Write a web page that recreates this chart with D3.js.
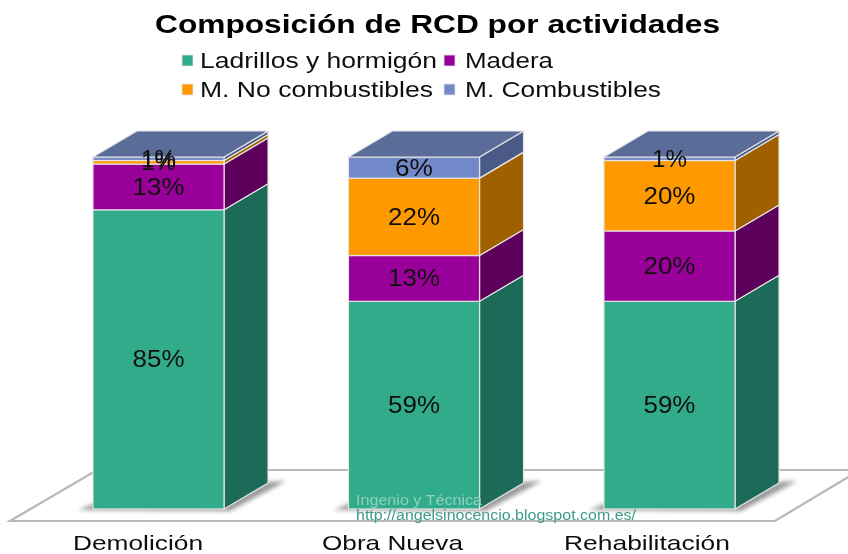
<!DOCTYPE html>
<html><head><meta charset="utf-8">
<script src="https://cdn.jsdelivr.net/npm/d3@7"></script>
<style>html,body{margin:0;background:#fff}svg{display:block;font-family:"Liberation Sans",Arial,sans-serif}</style>
</head><body><div id="c"></div>
<script>
const categories=["Demolición","Obra Nueva","Rehabilitación"];
const seriesNames=["Ladrillos y hormigón","Madera","M. No combustibles","M. Combustibles"];
const ladrillos=[85,59,59];
const madera=[13,13,20];
const noCombustibles=[1,22,20];
const combustibles=[1,6,1];
const frontColors=["#33ab8b","#990099","#ff9900","#7289c9"];
const sideColors=["#1e6b59","#5c005c","#a06000","#4a5a86"];
const topColor="#5a6c98";
const title="Composición de RCD por actividades";
const watermark=["Ingenio y Técnica","http://angelsinocencio.blogspot.com.es/"];

const W=848,H=554,dx=44,dy=-26;
const values=[ladrillos,madera,noCombustibles,combustibles];
const svg=d3.select("#c").append("svg").attr("width",W).attr("height",H);
const defs=svg.append("defs");
defs.append("filter").attr("id","soft").attr("x","-5%").attr("y","-5%").attr("width","110%").attr("height","110%")
  .append("feGaussianBlur").attr("stdDeviation",0.7);
defs.append("filter").attr("id","sh").attr("x","-30%").attr("y","-100%").attr("width","160%").attr("height","300%")
  .append("feGaussianBlur").attr("stdDeviation",2);
const root=svg.append("g").attr("filter","url(#soft)");

const x=d3.scaleBand().domain(categories).range([29.1,798.9]).paddingInner(0.487).paddingOuter(0.25);
const y=d3.scaleLinear().domain([0,100]).range([509,157]);
const line=d3.line();

// floor
root.append("path").attr("d",line([[97,470],[860,470],[775,521],[10,521]])+"Z")
  .attr("fill","#fff").attr("stroke","#b8b8b8").attr("stroke-width",2.2);

const stacks=categories.map((c,i)=>{let s=0;return values.map((v,k)=>{const o={c,k,v:v[i],y0:s,y1:s+v[i]};s+=v[i];return o;});});

// bars
const bars=root.selectAll("g.bar").data(stacks).join("g").attr("class","bar");
bars.each(function(st){
  const g=d3.select(this),x0=x(st[0].c),x1=x0+x.bandwidth();
  // ground shadow
  g.append("path").attr("d",line([[x0-15,y(0)+1],[x0,y(0)-5],[x1,y(0)-5],[x1+dx,y(0)+dy-1],[x1+dx+18,y(0)+dy-2],[x1+6,y(0)+2]])+"Z")
    .attr("fill","#9a9a9a").attr("filter","url(#sh)");
  g.selectAll("path.side").data(st).join("path").attr("class","side")
    .attr("d",d=>line([[x1,y(d.y0)],[x1+dx,y(d.y0)+dy],[x1+dx,y(d.y1)+dy],[x1,y(d.y1)]])+"Z")
    .attr("fill",d=>sideColors[d.k]).attr("stroke","#e4e4e4").attr("stroke-width",1.2).attr("stroke-linejoin","round");
  g.selectAll("rect.front").data(st).join("rect").attr("class","front")
    .attr("x",x0).attr("width",x.bandwidth()).attr("y",d=>y(d.y1)).attr("height",d=>y(d.y0)-y(d.y1))
    .attr("fill",d=>frontColors[d.k]).attr("stroke","#e4e4e4").attr("stroke-width",1.2);
  g.append("path").attr("d",line([[x0,y(100)],[x0+dx,y(100)+dy],[x1+dx,y(100)+dy],[x1,y(100)]])+"Z")
    .attr("fill",topColor).attr("stroke","#e4e4e4").attr("stroke-width",1.2).attr("stroke-linejoin","round");
});

// value labels
const lab=root.append("g").attr("font-size",23).attr("fill","#111").attr("text-anchor","middle");
stacks.flat().forEach(d=>{
  const ym=y((d.y0+d.y1)/2)+8;
  lab.append("text").attr("x",x(d.c)+x.bandwidth()/2).attr("y",ym).text(d.v+"%")
    .attr("textLength",d.v<10?(d.v==6?38:35):52).attr("lengthAdjust","spacingAndGlyphs");
});

// category labels
const catCenters=d3.scalePoint().domain(categories).range([138,647]);
root.selectAll("text.cat").data(categories).join("text").attr("class","cat")
  .attr("x",d=>catCenters(d)).attr("y",549.5).attr("text-anchor","middle").attr("font-size",21).attr("fill","#111")
  .text(d=>d).attr("textLength",(d,i)=>[130,141,166][i]).attr("lengthAdjust","spacingAndGlyphs");

// title
root.append("text").attr("x",155).attr("y",33).attr("font-size",26).attr("font-weight","bold").attr("fill","#000")
  .text(title).attr("textLength",565).attr("lengthAdjust","spacingAndGlyphs");

// legend
const legX=[[182,200],[444,465],[182,200],[444,465]],legY=[60,60,89,89],legW=[237,88,233,196];
const leg=root.selectAll("g.leg").data(seriesNames).join("g").attr("class","leg");
leg.append("rect").attr("x",(d,i)=>legX[i][0]).attr("y",(d,i)=>legY[i]-5).attr("width",11).attr("height",11)
  .attr("fill",(d,i)=>frontColors[i]).attr("stroke","#e4e4e4").attr("stroke-width",0.8);
leg.append("text").attr("x",(d,i)=>legX[i][1]).attr("y",(d,i)=>legY[i]+7.5).attr("font-size",22).attr("fill","#111")
  .text(d=>d).attr("textLength",(d,i)=>legW[i]).attr("lengthAdjust","spacingAndGlyphs");

// watermark
root.append("text").attr("x",356).attr("y",505).attr("font-size",14).attr("fill","#8fd0c0")
  .text(watermark[0]).attr("textLength",126).attr("lengthAdjust","spacingAndGlyphs");
root.append("text").attr("x",356).attr("y",520).attr("font-size",14).attr("fill","#3f9c86")
  .text(watermark[1]).attr("textLength",280).attr("lengthAdjust","spacingAndGlyphs");
</script></body></html>
